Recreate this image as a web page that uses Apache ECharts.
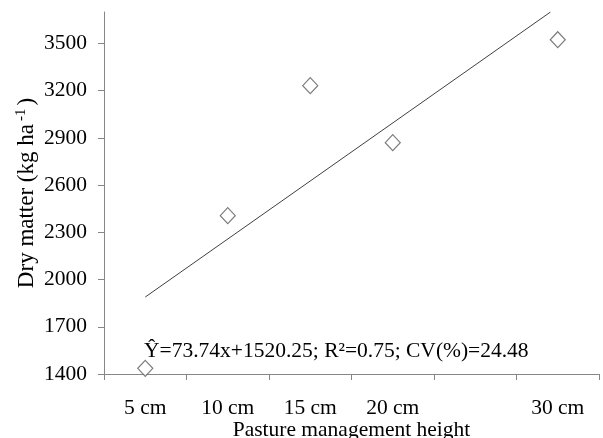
<!DOCTYPE html>
<html>
<head>
<meta charset="utf-8">
<script src="https://cdn.jsdelivr.net/npm/echarts@6/dist/echarts.min.js"></script>
<style>html,body{margin:0;padding:0;background:#fff}#c{width:603px;height:438px}</style>
</head>
<body>
<div id="c"></div>
<script>
// Categories shown on the x axis (25 cm slot is empty in the original)
var categories = ["5 cm", "10 cm", "15 cm", "20 cm", "", "30 cm"];
// Observed points: height (cm) and dry matter (kg/ha)
var heights = [5, 10, 15, 20, 30];
var dryMatter = [1436, 2406, 3232, 2870, 3524];
// Fitted trend line endpoints
var trendX = [5, 29.56];
var trendY = [1889, 3700];
var equationText = "\u0176=73.74x+1520.25; R\u00B2=0.75; CV(%)=24.48";

var font = "'Liberation Serif', 'Times New Roman', serif";
var fs = 21.5;
var chart = echarts.init(document.getElementById('c'));
var pts = heights.map(function (h, i) { return [h, dryMatter[i]]; });
var trend = trendX.map(function (x, i) { return [x, trendY[i]]; });

chart.setOption({
  animation: false,
  grid: { left: 104, right: 4, top: 12, bottom: 64, containLabel: false, outerBoundsMode: 'none' },
  xAxis: [
    {
      type: 'category', data: categories, boundaryGap: true, position: 'bottom',
      axisLine: { lineStyle: { color: '#868686', width: 1 } },
      axisTick: { show: true, length: 6, alignWithLabel: false, lineStyle: { color: '#868686' } },
      axisLabel: { color: '#000', fontFamily: font, fontSize: fs, margin: 23, interval: 0 },
      name: 'Pasture management height', nameLocation: 'middle', nameGap: 45, nameMoveOverlap: false,
      nameTextStyle: { color: '#000', fontFamily: font, fontSize: fs },
      splitLine: { show: false }
    },
    {
      type: 'value', min: 2.5, max: 32.5, show: false, position: 'bottom'
    }
  ],
  yAxis: {
    type: 'value', min: 1400, max: 3700, interval: 300,
    axisLine: { show: true, lineStyle: { color: '#868686', width: 1 } },
    axisTick: { show: true, length: 6, lineStyle: { color: '#868686' } },
    axisLabel: {
      color: '#000', fontFamily: font, fontSize: fs, margin: 17, showMaxLabel: false,
      formatter: function (v) { return String(v); }
    },
    splitLine: { show: false },
    name: '{a|Dry matter (kg ha}{s|-1}{a|)}', nameLocation: 'middle', nameGap: 65, nameRotate: 90, nameMoveOverlap: false,
    nameTextStyle: {
      color: '#000', fontFamily: font, fontSize: 23,
      rich: {
        a: { fontFamily: font, fontSize: 23, color: '#000', lineHeight: 25 },
        s: { fontFamily: font, fontSize: 15, color: '#000', verticalAlign: 'top', lineHeight: 25, padding: [0, 3, 10, 3] }
      }
    }
  },
  series: [
    {
      type: 'line', xAxisIndex: 1, data: trend, symbol: 'none',
      lineStyle: { color: '#404040', width: 1 }, silent: true
    },
    {
      type: 'scatter', xAxisIndex: 1, data: pts, symbol: 'diamond', symbolSize: [15, 16],
      itemStyle: { color: '#fff', borderColor: '#5a5a5a', borderWidth: 1.2 }
    }
  ],
  graphic: [
    {
      type: 'text', left: 144, top: 340, silent: true,
      style: { text: equationText, fill: '#000', font: fs + 'px ' + font }
    }
  ]
});
</script>
</body>
</html>
